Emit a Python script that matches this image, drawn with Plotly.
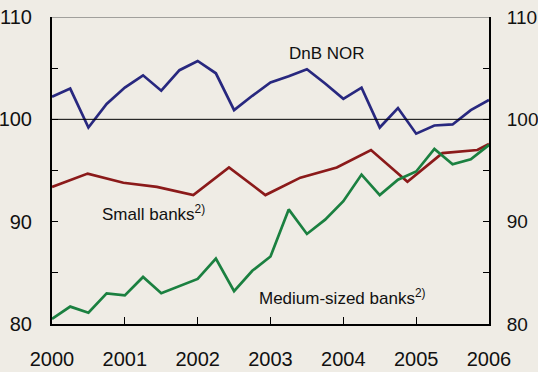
import plotly.graph_objects as go

quarters = [2000 + i * 0.25 for i in range(25)]
dnb_nor = [102.2, 103.0, 99.2, 101.5, 103.1, 104.3, 102.8, 104.8, 105.7, 104.5, 100.9, 102.3,
           103.6, 104.2, 104.9, 103.5, 102.0, 103.1, 99.2, 101.1, 98.6, 99.4, 99.5, 100.9, 101.9]
medium_banks = [80.5, 81.7, 81.1, 83.0, 82.8, 84.6, 83.0, 83.7, 84.4, 86.4, 83.2, 85.2,
                86.6, 91.2, 88.8, 90.2, 92.0, 94.6, 92.6, 94.1, 94.9, 97.1, 95.6, 96.1, 97.5]
small_x = [2000.0, 2000.49, 2000.98, 2001.44, 2001.94, 2002.43, 2002.93, 2003.41, 2003.91,
           2004.38, 2004.88, 2005.36, 2005.84, 2006.0]
small_banks = [93.4, 94.7, 93.8, 93.4, 92.6, 95.3, 92.6, 94.3, 95.3, 97.0, 93.9, 96.7, 97.0, 97.6]

year_ticks = [2000, 2001, 2002, 2003, 2004, 2005, 2006]
y_ticks = [80, 90, 100, 110]
y_minor_ticks = [85, 95, 105]

bg = "#efece5"
tick_font = dict(family="Liberation Sans Narrow, Arial Narrow, Liberation Sans, Arial", size=20, color="#111111")
tick_font_r = dict(tick_font, size=19)
lab_font = dict(family="Liberation Sans, Arial", size=17, color="#111111")

fig = go.Figure()
fig.add_trace(go.Scatter(x=quarters, y=dnb_nor, mode="lines", line=dict(color="#28287f", width=2.7)))
fig.add_trace(go.Scatter(x=small_x, y=small_banks, mode="lines", line=dict(color="#8b1a1a", width=2.7)))
fig.add_trace(go.Scatter(x=quarters, y=medium_banks, mode="lines", line=dict(color="#1b8040", width=2.7)))
fig.add_trace(go.Scatter(x=[2000], y=[80], mode="markers", marker=dict(opacity=0), yaxis="y2", hoverinfo="skip"))

fig.add_shape(type="line", xref="paper", x0=0, x1=1, yref="y", y0=100, y1=100, line=dict(color="#000000", width=1))
fig.add_shape(type="line", xref="paper", x0=0, x1=1, yref="y", y0=110, y1=110, line=dict(color="#555555", width=1))

fig.add_annotation(x=2003.78, y=106.45, text="DnB NOR", showarrow=False, font=lab_font, xanchor="center", yanchor="middle")
fig.add_annotation(x=2000.66, y=90.8, text="Small banks<sup>2)</sup>", showarrow=False, font=lab_font, xanchor="left", yanchor="middle")
fig.add_annotation(x=2002.81, y=82.6, text="Medium-sized banks<sup>2)</sup>", showarrow=False, font=lab_font, xanchor="left", yanchor="middle")

yax = dict(range=[80, 110], tickvals=y_ticks, ticktext=[str(v) for v in y_ticks], ticks="inside", ticklen=6,
           tickwidth=1, tickcolor="#000", showline=True, linecolor="#000", linewidth=2,
           minor=dict(tickvals=y_minor_ticks, ticks="inside", ticklen=6, tickwidth=1, tickcolor="#000", showgrid=False),
           showgrid=False, zeroline=False, tickfont=tick_font, ticklabelstandoff=14,
           automargin=False, fixedrange=True)

fig.update_layout(
    width=538, height=372, showlegend=False,
    paper_bgcolor=bg, plot_bgcolor=bg,
    margin=dict(l=52, r=49, t=17, b=48, autoexpand=False),
    xaxis=dict(range=[2000, 2006], tickvals=year_ticks, ticktext=[str(y) for y in year_ticks],
               ticks="inside", ticklen=7, tickwidth=1, tickcolor="#000", showline=True,
               linecolor="#000", linewidth=2, showgrid=False, zeroline=False, tickfont=tick_font,
               ticklabelstandoff=16, automargin=False, fixedrange=True),
    yaxis=yax,
    yaxis2=dict(yax, overlaying="y", side="right", anchor="x", tickfont=tick_font_r, ticklabelstandoff=12),
)

fig.write_html("out.html", config={"displayModeBar": False},
               post_script="document.body.style.margin='0';document.body.style.background='#efece5';")
